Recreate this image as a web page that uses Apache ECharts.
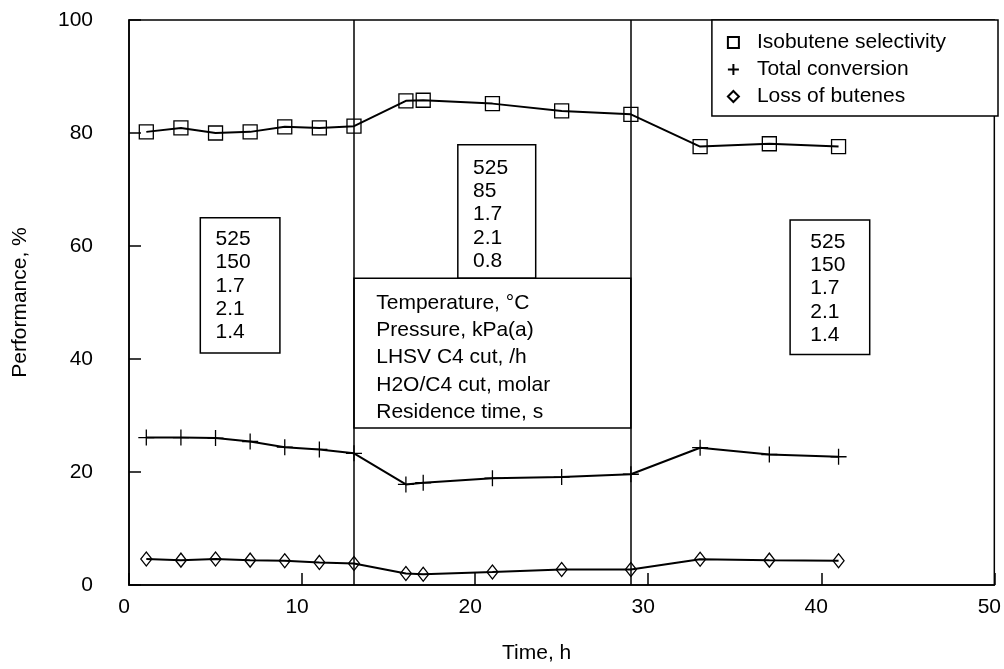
<!DOCTYPE html>
<html><head><meta charset="utf-8">
<script src="https://cdn.jsdelivr.net/npm/echarts@6/dist/echarts.min.js"></script>
<style>html,body{margin:0;padding:0;background:#fff}#c{width:1004px;height:669px}</style>
</head><body><div id="c"></div>
<script>
const timeH = [1, 3, 5, 7, 9, 11, 13, 16, 17, 21, 25, 29, 33, 37, 41];
const selectivity = [80.2, 80.9, 80.0, 80.2, 81.1, 80.9, 81.2, 85.7, 85.8, 85.2, 83.9, 83.3, 77.6, 78.1, 77.6];
const conversion = [26.1, 26.1, 26.0, 25.4, 24.4, 24.0, 23.3, 17.8, 18.1, 18.9, 19.1, 19.6, 24.3, 23.1, 22.7];
const lossButenes = [4.6, 4.4, 4.6, 4.4, 4.3, 4.0, 3.8, 2.05, 1.9, 2.3, 2.75, 2.75, 4.56, 4.4, 4.3];
const xTicks = [0, 10, 20, 30, 40, 50];
const yTicks = [0, 20, 40, 60, 80, 100];
const periodBounds = [13, 29];
const seriesNames = ['Isobutene selectivity', 'Total conversion', 'Loss of butenes'];
const condLabels = ['Temperature, °C', 'Pressure, kPa(a)', 'LHSV C4 cut, /h', 'H2O/C4 cut, molar', 'Residence time, s'];
const condPeriod1 = ['525', '150', '1.7', '2.1', '1.4'];
const condPeriod2 = ['525', '85', '1.7', '2.1', '0.8'];
const condPeriod3 = ['525', '150', '1.7', '2.1', '1.4'];

const FONT = '"Liberation Sans", Arial, sans-serif';
const chart = echarts.init(document.getElementById('c'), null, {renderer: 'canvas'});
const pair = (xs, ys) => xs.map((x, i) => [x, ys[i]]);

function box(x0, y0, x1, y1, text, lh, pt, pl) {
  return [
    {xAxis: x0, yAxis: y1,
     label: {show: true, position: 'insideTopLeft', distance: 0, formatter: text,
             fontSize: 21, fontFamily: FONT, color: '#000', lineHeight: lh,
             padding: [pt, 0, 0, pl], align: 'left'}},
    {xAxis: x1, yAxis: y0}
  ];
}

const plusPath = 'path://M0,6H12M6,0V12';

chart.setOption({
  animation: false,
  backgroundColor: '#fff',
  textStyle: {fontFamily: FONT, color: '#000'},
  grid: {left: 129, right: 6, top: 20, bottom: 79, show: true, borderColor: '#000', borderWidth: 1.5},
  xAxis: {
    type: 'value', min: xTicks[0], max: xTicks[xTicks.length - 1], interval: 10,
    name: 'Time, h', nameLocation: 'middle', nameGap: 58,
    nameTextStyle: {fontSize: 21, fontFamily: FONT, color: '#000', padding: [0, 50, 0, 0]},
    axisLine: {lineStyle: {color: '#000', width: 1.5}},
    axisTick: {inside: true, length: 12, lineStyle: {color: '#000', width: 1.5}},
    axisLabel: {fontSize: 21, fontFamily: FONT, color: '#000', margin: 12, padding: [0, 10, 0, 0],
                formatter: v => xTicks.includes(v) ? String(v) : ''},
    splitLine: {show: false}
  },
  yAxis: {
    type: 'value', min: yTicks[0], max: yTicks[yTicks.length - 1], interval: 20,
    name: 'Performance, %', nameLocation: 'middle', nameGap: 98,
    nameTextStyle: {fontSize: 21, fontFamily: FONT, color: '#000'},
    axisLine: {lineStyle: {color: '#000', width: 1.5}},
    axisTick: {inside: true, length: 12, lineStyle: {color: '#000', width: 1.5}},
    axisLabel: {fontSize: 21, fontFamily: FONT, color: '#000', margin: 36, padding: [4, 0, 0, 0],
                formatter: v => yTicks.includes(v) ? String(v) : ''},
    splitLine: {show: false}
  },
  legend: {
    orient: 'vertical', right: 6, top: 20,
    backgroundColor: '#fff', borderColor: '#000', borderWidth: 1.5, borderRadius: 0,
    padding: [12, 52, 9, 15],
    itemWidth: 11, itemHeight: 11, itemGap: 6,
    textStyle: {fontSize: 21, fontFamily: FONT, color: '#000', padding: [0, 0, 0, 13]},
    data: [
      {name: seriesNames[0], icon: 'rect'},
      {name: seriesNames[1], icon: plusPath},
      {name: seriesNames[2], icon: 'diamond'}
    ]
  },
  series: [
    {
      type: 'line', name: '__frames', data: [], silent: true, z: 1,
      markLine: {
        silent: true, symbol: ['none', 'none'], label: {show: false},
        lineStyle: {color: '#000', width: 1.5, type: 'solid'},
        data: periodBounds.map(b => ({xAxis: b}))
      },
      markArea: {
        silent: true,
        itemStyle: {color: '#fff', borderColor: '#000', borderWidth: 1.5},
        data: [
          box(4.12, 41.05, 8.72, 65.0, condPeriod1.join('\n'), 23.3, 10.7, 16),
          box(19.0, 54.3, 23.5, 77.9, condPeriod2.join('\n'), 23.3, 12.3, 16),
          box(periodBounds[0], 27.8, periodBounds[1], 54.3, condLabels.join('\n'), 27.3, 11.7, 23),
          box(38.2, 40.8, 42.8, 64.6, condPeriod3.join('\n'), 23.3, 11, 21)
        ]
      }
    },
    {
      type: 'line', name: seriesNames[0], data: pair(timeH, selectivity), z: 3,
      symbol: 'rect', symbolSize: 14,
      lineStyle: {color: '#000', width: 2},
      itemStyle: {color: 'rgba(255,255,255,0)', borderColor: '#000', borderWidth: 1.3}
    },
    {
      type: 'line', name: seriesNames[1], data: pair(timeH, conversion), z: 3,
      symbol: plusPath, symbolSize: 16,
      lineStyle: {color: '#000', width: 2},
      itemStyle: {color: 'rgba(255,255,255,0)', borderColor: '#000', borderWidth: 1.3}
    },
    {
      type: 'line', name: seriesNames[2], data: pair(timeH, lossButenes), z: 3,
      symbol: 'diamond', symbolSize: [11, 14],
      lineStyle: {color: '#000', width: 2},
      itemStyle: {color: 'rgba(255,255,255,0)', borderColor: '#000', borderWidth: 1.3}
    }
  ]
});
</script></body></html>
